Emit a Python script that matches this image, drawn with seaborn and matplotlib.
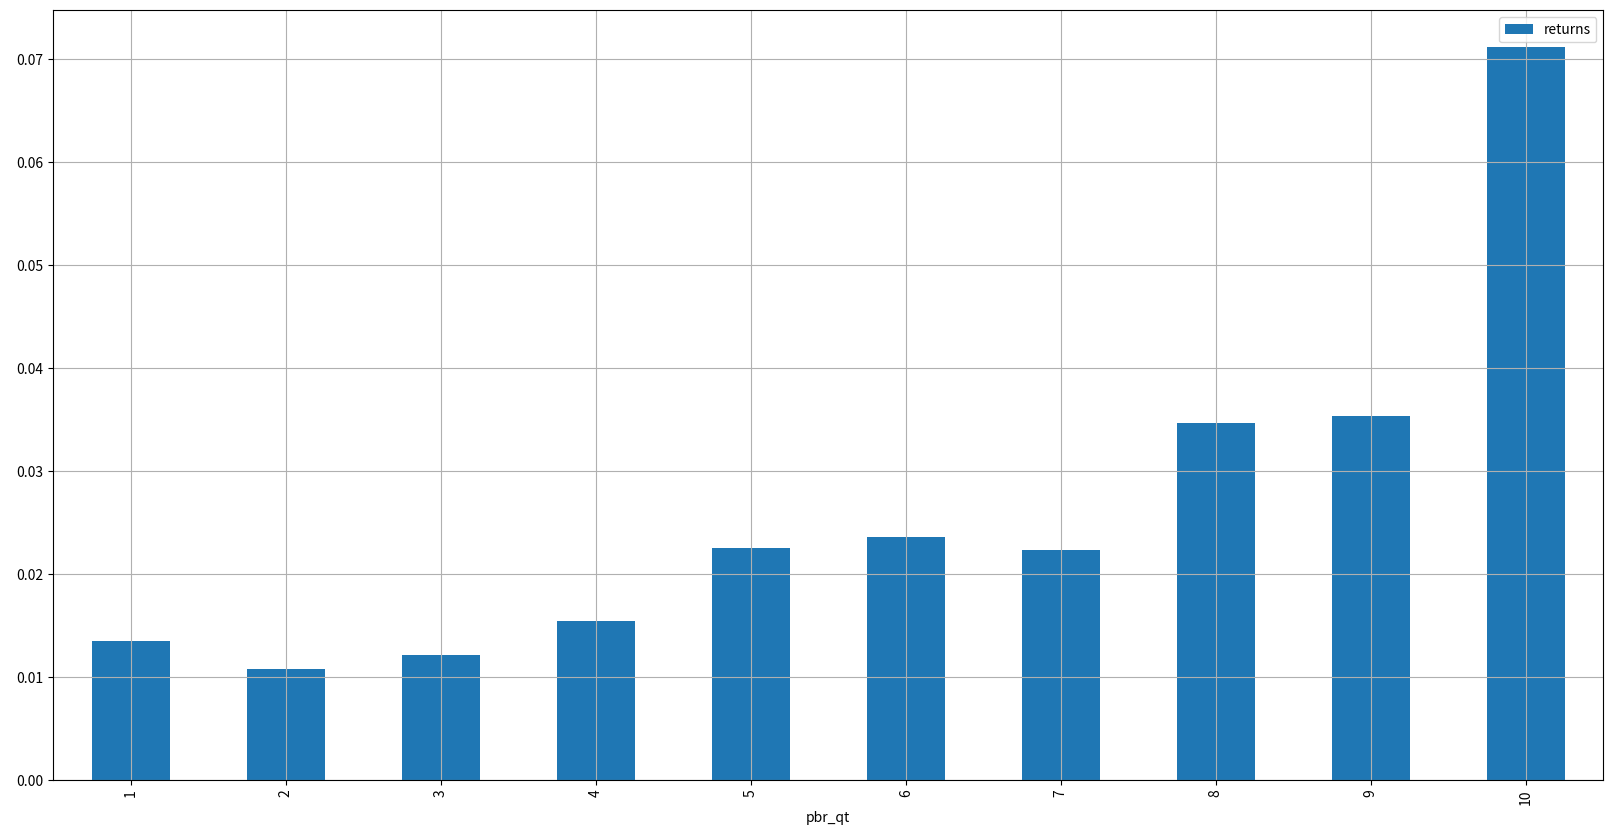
import pandas as pd
import seaborn as sns
import matplotlib.pyplot as plt

# quantile buckets of PBR and mean returns per bucket
pbr_qt = ['1', '2', '3', '4', '5', '6', '7', '8', '9', '10']
returns = [0.01348, 0.01077, 0.0121, 0.0154, 0.0225, 0.02357, 0.0223, 0.03463, 0.03531, 0.0712]

df = pd.DataFrame({'pbr_qt': pbr_qt, 'returns': returns})

plt.rcParams['font.family'] = ['Noto Sans CJK KR', 'DejaVu Sans']

fig, ax = plt.subplots(figsize=(16.12, 8.38), dpi=100)
fig.subplots_adjust(left=0.0331, right=0.9946, top=0.9877, bottom=0.0692)

sns.barplot(data=df, x='pbr_qt', y='returns', color='#1f77b4', saturation=1,
            width=0.5, ax=ax)

ax.set_xlim(-0.5, len(pbr_qt) - 0.5)
ax.set_ylim(0, max(returns) * 1.05)
ax.grid(True, color='#b0b0b0', linewidth=0.8)
ax.set_xlabel('pbr_qt')
ax.set_ylabel('')
plt.setp(ax.get_xticklabels(), rotation=90)
ax.legend(handles=[ax.patches[0]], labels=['returns'], loc='upper right')

fig.savefig('out.png', dpi=100)
